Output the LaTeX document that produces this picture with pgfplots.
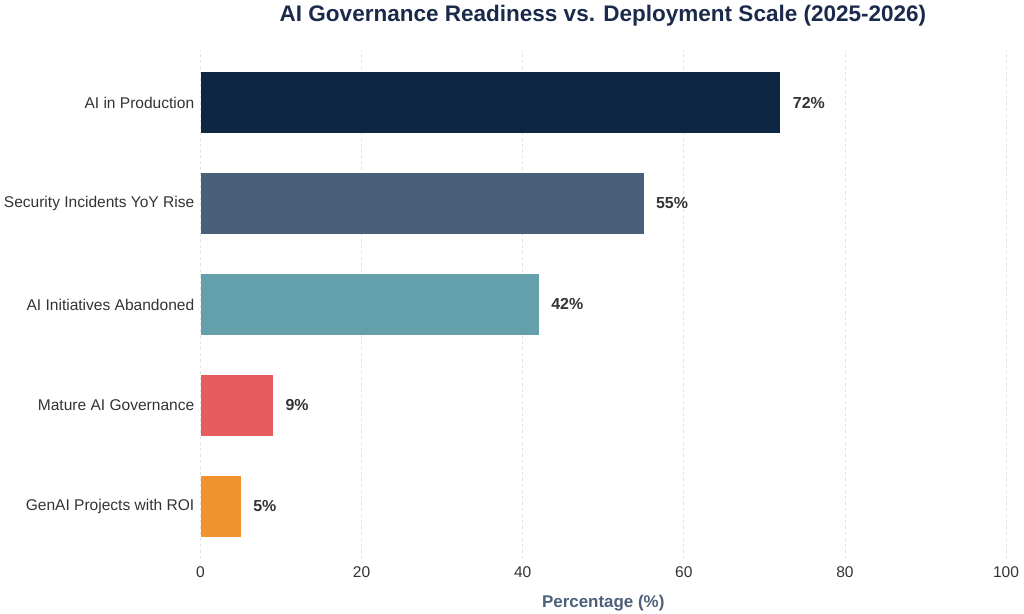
\documentclass[border=0pt]{standalone}
\usepackage{fontspec}
\setmainfont{Liberation Sans}
\usepackage{pgfplots}
\pgfplotsset{compat=1.18}

\definecolor{navy}{HTML}{0D2742}
\definecolor{slate}{HTML}{4A5F7A}
\definecolor{teal}{HTML}{64A0AB}
\definecolor{coral}{HTML}{E75C5E}
\definecolor{amber}{HTML}{F0922F}
\definecolor{titlecol}{HTML}{1B2A4A}
\definecolor{labelcol}{HTML}{4C6079}
\definecolor{tickcol}{HTML}{333333}
\definecolor{gridcol}{HTML}{E3E3E3}

\begin{document}
\begin{tikzpicture}[x=1bp,y=1bp]
\useasboundingbox (0,0) rectangle (1024,614);
\begin{axis}[
  at={(200.5bp,55bp)}, anchor=south west,
  scale only axis,
  width=805.5bp, height=509bp,
  xbar, bar width=0.6, bar shift=0pt,
  xmin=0, xmax=100,
  ymin=-0.52, ymax=4.52,
  xtick={0,20,40,60,80,100},
  ytick={0,1,2,3,4},
  yticklabels={GenAI Projects with ROI, Mature AI Governance, AI Initiatives Abandoned, Security Incidents YoY Rise, AI in Production},
  axis line style={draw=none},
  tick style={draw=none},
  xmajorgrids,
  grid style={gridcol, dashed, line width=0.8pt},
  /pgf/number format/assume math mode=true,
  ticklabel style={font=\fontsize{15.6}{18}\selectfont, text=tickcol},
  yticklabel style={xshift=1.5bp},
  xticklabel style={yshift=-4bp},
  xlabel={\textbf{Percentage (\%)}},
  xlabel style={font=\fontsize{17}{20}\selectfont, text=labelcol, yshift=-11bp},
  nodes near coords={\pgfmathprintnumber{\pgfplotspointmeta}\%},
  nodes near coords style={anchor=west, xshift=9bp, font=\bfseries\fontsize{16}{18}\selectfont, text=tickcol},
  point meta=x,
]
\addplot[fill=navy, draw=none] coordinates {(72,4)};
\addplot[fill=slate, draw=none] coordinates {(55,3)};
\addplot[fill=teal, draw=none] coordinates {(42,2)};
\addplot[fill=coral, draw=none] coordinates {(9,1)};
\addplot[fill=amber, draw=none] coordinates {(5,0)};
\end{axis}
\node[font=\bfseries\fontsize{22.6}{26}\selectfont, text=titlecol] at (603,598) {AI Governance Readiness vs. Deployment Scale (2025-2026)};
\end{tikzpicture}
\end{document}
